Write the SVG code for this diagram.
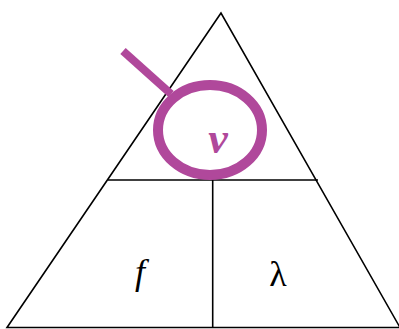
<svg xmlns="http://www.w3.org/2000/svg" width="399" height="329" viewBox="0 0 399 329">
<style>
.ln{stroke:#000;stroke-width:1.6;fill:none}
.mg{stroke:#B0489B;fill:none}
.t{font-family:"Liberation Serif","Times New Roman",serif;text-anchor:middle}
.it{font-style:italic}
</style>
<rect width="399" height="329" fill="#fff"/>
<g id="triangle">
<polygon class="ln" points="221,13 7,327.5 400,327.5"/>
<line class="ln" x1="108" y1="180" x2="318" y2="180"/>
<line class="ln" x1="212.7" y1="180" x2="212.7" y2="328"/>
</g>
<g id="magnifier">
<line class="mg" stroke-width="8" x1="123" y1="51" x2="171" y2="94"/>
<ellipse class="mg" stroke-width="10" cx="210" cy="130" rx="52" ry="45"/>
</g>
<g id="v"><text class="t it" x="218" y="153" font-size="44" font-weight="bold" fill="#B0489B">ν</text></g>
<g id="f"><text class="t it" x="140" y="284" font-size="36">f</text></g>
<g id="lambda"><text class="t" x="278" y="286" font-size="36">λ</text></g>
</svg>
